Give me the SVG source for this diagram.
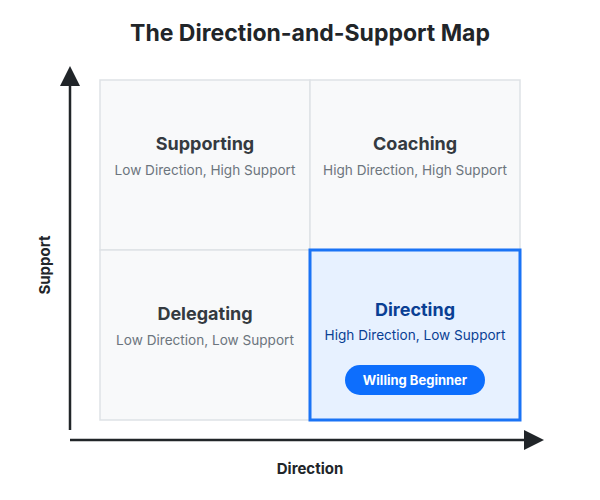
<svg xmlns="http://www.w3.org/2000/svg" width="600" height="500" viewBox="0 0 600 500">
<style>
text{font-family:Inter,"Liberation Sans",Arial,sans-serif;text-anchor:middle}
.title{font-size:23px;font-weight:700;fill:#212529}
.cell{fill:#f8f9fa;stroke:#dee2e6;stroke-width:1.5}
.hl{fill:#e7f1ff;stroke:#1a73f5;stroke-width:3}
.qt{font-size:18px;font-weight:700;fill:#343a40}
.qs{font-size:13.6px;fill:#6c757d}
.qth{font-size:18px;font-weight:700;fill:#0a3f94}
.qsh{font-size:13.6px;fill:#0a3f94}
.axis{stroke:#212529;stroke-width:2.5;fill:none}
.head{fill:#212529}
.al{font-size:15px;font-weight:700;fill:#212529}
.pill{fill:#0d6efd}
.pt{font-size:13px;font-weight:700;fill:#ffffff}
</style>
<rect width="600" height="500" fill="#ffffff"/>
<text class="title" x="310" y="41">The Direction-and-Support Map</text>
<g id="supporting">
<rect class="cell" x="100" y="80" width="210" height="170"/>
<text class="qt" x="205" y="150">Supporting</text>
<text class="qs" x="205" y="175">Low Direction, High Support</text>
</g>
<g id="coaching">
<rect class="cell" x="310" y="80" width="210" height="170"/>
<text class="qt" x="415" y="150">Coaching</text>
<text class="qs" x="415" y="175">High Direction, High Support</text>
</g>
<g id="delegating">
<rect class="cell" x="100" y="250" width="210" height="170"/>
<text class="qt" x="205" y="320">Delegating</text>
<text class="qs" x="205" y="345">Low Direction, Low Support</text>
</g>
<g id="directing">
<rect class="hl" x="310" y="250" width="210" height="170"/>
<text class="qth" x="415" y="316">Directing</text>
<text class="qsh" x="415" y="340">High Direction, Low Support</text>
<rect class="pill" x="345" y="365" width="140" height="30" rx="15"/>
<text class="pt" x="415" y="385">Willing Beginner</text>
</g>
<g id="connectors">
<path class="axis" d="M70,430 L70,86"/>
<path class="head" d="M60,86 L70,66 L80,86 z"/>
<path class="axis" d="M70,440 L524,440"/>
<path class="head" d="M524,430 L544,440 L524,450 z"/>
</g>
<text class="al" x="310" y="474">Direction</text>
<text class="al" x="0" y="0" transform="translate(50,265) rotate(-90)">Support</text>
</svg>
